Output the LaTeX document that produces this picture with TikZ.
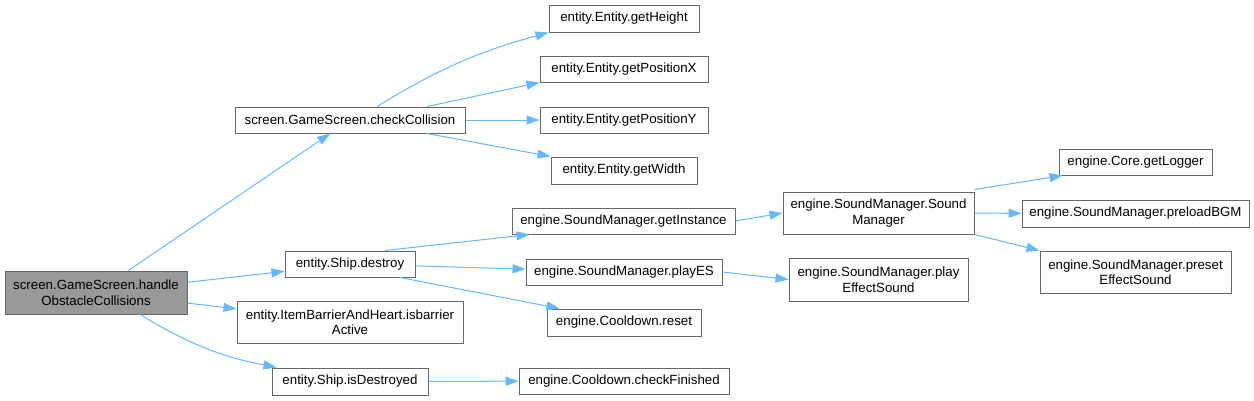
\documentclass[tikz,border=0pt]{standalone}
\usepackage{fontspec}
\setmainfont{Liberation Sans}
\usepackage{xcolor}
\usetikzlibrary{arrows.meta}

\definecolor{edgeblue}{HTML}{63B8FF}
\definecolor{boxline}{HTML}{666666}
\definecolor{rootfill}{HTML}{999999}

\begin{document}
\begin{tikzpicture}[x=1pt,y=-1pt,
	fnode/.style={draw=boxline, line width=1pt, fill=white, inner sep=0pt,
		align=center, font=\fontsize{13.3}{15.5}\selectfont},
	rootnode/.style={fnode, fill=rootfill},
	call/.style={draw=edgeblue, line width=1pt,
		-{Triangle[length=13pt,width=9pt]}}]
	%\draw[help lines] (0,0) grid (1254,400);
	\useasboundingbox (0,0) rectangle (1254,400);
	
	% caller
	\node[rootnode, minimum width=182pt, minimum height=43pt] (root) at (96,292.5) {screen.GameScreen.handle\\ObstacleCollisions};
	
	% first level
	\node[fnode, minimum width=230pt, minimum height=26pt] (cc) at (350,120) {screen.GameScreen.checkCollision};
	\node[fnode, minimum width=130pt, minimum height=26pt] (destroy) at (350,264) {entity.Ship.destroy};
	\node[fnode, minimum width=226pt, minimum height=42pt] (barrier) at (350,322) {entity.ItemBarrierAndHeart.isbarrier\\Active};
	\node[fnode, minimum width=156pt, minimum height=27pt] (isdes) at (350,381.5) {entity.Ship.isDestroyed};
	
	% second level
	\node[fnode, minimum width=150pt, minimum height=27pt] (gh) at (624,18.5) {entity.Entity.getHeight};
	\node[fnode, minimum width=168pt, minimum height=26pt] (gpx) at (624,69) {entity.Entity.getPositionX};
	\node[fnode, minimum width=168pt, minimum height=26pt] (gpy) at (624,120) {entity.Entity.getPositionY};
	\node[fnode, minimum width=146pt, minimum height=27pt] (gw) at (624,170.5) {entity.Entity.getWidth};
	\node[fnode, minimum width=223pt, minimum height=26pt] (inst) at (623.5,221) {engine.SoundManager.getInstance};
	\node[fnode, minimum width=196pt, minimum height=26pt] (playes) at (624,272) {engine.SoundManager.playES};
	\node[fnode, minimum width=154pt, minimum height=27pt] (reset) at (624,322.5) {engine.Cooldown.reset};
	\node[fnode, minimum width=210pt, minimum height=26pt] (chk) at (624,381) {engine.Cooldown.checkFinished};
	
	% third level
	\node[fnode, minimum width=191pt, minimum height=42pt] (smgr) at (878.5,213) {engine.SoundManager.Sound\\Manager};
	\node[fnode, minimum width=179pt, minimum height=43pt] (pes) at (878.5,279.5) {engine.SoundManager.play\\EffectSound};
	
	% fourth level
	\node[fnode, minimum width=153pt, minimum height=26pt] (logger) at (1135.5,162) {engine.Core.getLogger};
	\node[fnode, minimum width=227pt, minimum height=27pt] (bgm) at (1135.5,213.5) {engine.SoundManager.preloadBGM};
	\node[fnode, minimum width=191pt, minimum height=42pt] (preset) at (1135.5,272) {engine.SoundManager.preset\\EffectSound};
	
	% calls
	\foreach \a/\b in {root/cc, root/destroy, root/barrier, cc/gpy, destroy/playes, isdes/chk, smgr/bgm}
		\draw[call] (\a) -- (\b);
	\draw[call] ([xshift=27pt]cc.north) to[bend left=8] (gh.south west);
	\draw[call] ([xshift=77pt]cc.north) -- (gpx.south west);
	\draw[call] ([xshift=77pt]cc.south) -- (gw.north west);
	\draw[call] ([xshift=44pt]root.south) to[bend right=10] ([xshift=5pt]isdes.north west);
	\draw[call] ([xshift=35pt]destroy.north) -- ([xshift=18pt]inst.south west);
	\draw[call] ([xshift=50pt]destroy.south) -- ([xshift=13pt]reset.north west);
	\draw[call] (inst.east) -- (smgr.west);
	\draw[call] (playes.east) -- (pes.west);
	\draw[call] ([yshift=2pt]smgr.north east) -- ([xshift=4pt]logger.south west);
	\draw[call] (smgr.south east) -- (preset.north west);
\end{tikzpicture}
\end{document}
